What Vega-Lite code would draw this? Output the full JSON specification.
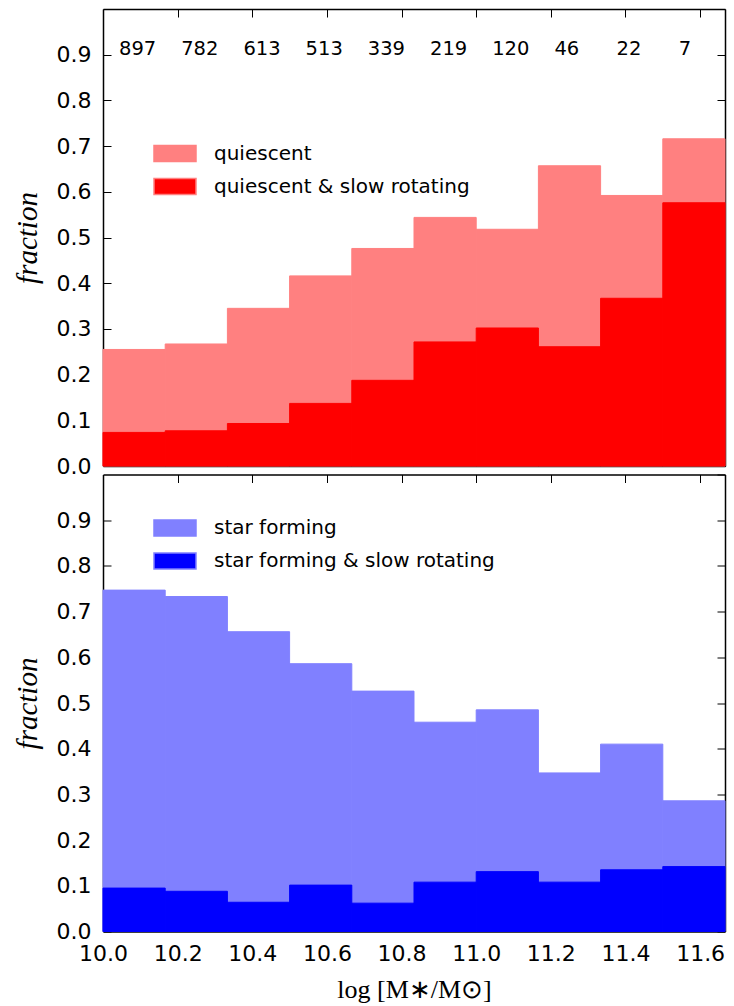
{
  "$schema": "https://vega.github.io/schema/vega-lite/v6.json",
  "background": "white",
  "padding": {"left": 13, "top": 8, "right": 5, "bottom": 2},
  "datasets": {
    "bins": [
      {"lo": 10.0, "hi": 10.16667, "q": 0.255, "qs": 0.0735, "sf": 0.747, "sfs": 0.095, "n": 897},
      {"lo": 10.16667, "hi": 10.33333, "q": 0.267, "qs": 0.077, "sf": 0.733, "sfs": 0.088, "n": 782},
      {"lo": 10.33333, "hi": 10.5, "q": 0.345, "qs": 0.093, "sf": 0.656, "sfs": 0.064, "n": 613},
      {"lo": 10.5, "hi": 10.66667, "q": 0.416, "qs": 0.137, "sf": 0.586, "sfs": 0.1015, "n": 513},
      {"lo": 10.66667, "hi": 10.83333, "q": 0.476, "qs": 0.1875, "sf": 0.526, "sfs": 0.062, "n": 339},
      {"lo": 10.83333, "hi": 11.0, "q": 0.544, "qs": 0.2715, "sf": 0.458, "sfs": 0.108, "n": 219},
      {"lo": 11.0, "hi": 11.16667, "q": 0.518, "qs": 0.302, "sf": 0.485, "sfs": 0.131, "n": 120},
      {"lo": 11.16667, "hi": 11.33333, "q": 0.657, "qs": 0.261, "sf": 0.347, "sfs": 0.108, "n": 46},
      {"lo": 11.33333, "hi": 11.5, "q": 0.592, "qs": 0.367, "sf": 0.41, "sfs": 0.135, "n": 22},
      {"lo": 11.5, "hi": 11.66667, "q": 0.716, "qs": 0.576, "sf": 0.286, "sfs": 0.142, "n": 7}
    ]
  },
  "config": {
    "view": {"stroke": null},
    "axis": {
      "domainColor": "black", "domainWidth": 1.5, "tickColor": "black", "tickSize": -8, "tickWidth": 1,
      "labelFont": "DejaVu Sans", "labelFontSize": 22, "labelColor": "black", "labelPadding": 20, "labelFlush": false,
      "grid": false, "zindex": 1
    },
    "legend": {
      "orient": "none", "legendX": 50, "legendY": 122.5, "padding": 0,
      "symbolType": "M-1,-0.38H1V0.38H-1Z", "symbolSize": 1764, "symbolStrokeWidth": 1.5, "symbolOpacity": 1,
      "labelFont": "DejaVu Sans", "labelFontSize": 20, "labelColor": "black", "labelOffset": 17, "labelLimit": 0,
      "rowPadding": -13, "title": null
    }
  },
  "bounds": "flush",
  "spacing": 8.5,
  "resolve": {"scale": {"color": "independent"}, "legend": {"color": "independent"}},
  "vconcat": [
    {
      "width": 622, "height": 457,
      "data": {"name": "bins"},
      "resolve": {"axis": {"x": "independent", "y": "independent"}},
      "layer": [
        {
          "mark": {"type": "rect", "stroke": "#ff8080", "strokeWidth": 1},
          "encoding": {
            "x": {"field": "lo", "type": "quantitative", "scale": {"domain": [10, 11.66667], "nice": false, "zero": false},
                  "axis": {"orient": "bottom", "values": [10, 10.2, 10.4, 10.6, 10.8, 11, 11.2, 11.4, 11.6], "labels": false, "title": null}},
            "x2": {"field": "hi"},
            "y": {"field": "q", "type": "quantitative", "scale": {"domain": [0, 1], "nice": false},
                  "axis": {"orient": "left", "values": [0, 0.1, 0.2, 0.3, 0.4, 0.5, 0.6, 0.7, 0.8, 0.9], "format": ".1f",
                           "title": "fraction", "titleFont": "Liberation Serif", "titleFontStyle": "italic", "titleFontWeight": "normal",
                           "titleFontSize": 29, "titleColor": "black", "titleX": -67, "titleY": 228.5, "titleBaseline": "alphabetic", "titleAngle": -90, "titleAlign": "center"}},
            "y2": {"datum": 0},
            "color": {"datum": "quiescent", "type": "nominal",
                      "scale": {"domain": ["quiescent", "quiescent & slow rotating"], "range": ["#ff8080", "#ff0000"]},
                      "legend": {"encode": {"symbols": {"update": {"stroke": {"signal": "datum.value === 'quiescent' ? '#a07070' : '#000000'"}, "strokeWidth": {"value": 1.5}}}}}}
          }
        },
        {
          "mark": {"type": "rect", "stroke": "#ff0000", "strokeWidth": 1},
          "encoding": {
            "x": {"field": "lo", "type": "quantitative", "scale": {"domain": [10, 11.66667], "nice": false, "zero": false},
                  "axis": {"orient": "top", "values": [10, 10.2, 10.4, 10.6, 10.8, 11, 11.2, 11.4, 11.6], "labels": false, "title": null}},
            "x2": {"field": "hi"},
            "y": {"field": "qs", "type": "quantitative", "scale": {"domain": [0, 1], "nice": false},
                  "axis": {"orient": "right", "values": [0, 0.1, 0.2, 0.3, 0.4, 0.5, 0.6, 0.7, 0.8, 0.9, 1.0], "labels": false, "title": null}},
            "y2": {"datum": 0},
            "color": {"datum": "quiescent & slow rotating", "type": "nominal"}
          }
        },
        {
          "mark": {"type": "text", "align": "left", "baseline": "alphabetic", "dx": 16, "font": "DejaVu Sans", "fontSize": 19.5, "color": "black"},
          "encoding": {
            "x": {"field": "lo", "type": "quantitative", "axis": null},
            "y": {"datum": 0.9, "type": "quantitative", "axis": null},
            "text": {"field": "n", "type": "quantitative"}
          }
        }
      ]
    },
    {
      "width": 622, "height": 457,
      "data": {"name": "bins"},
      "resolve": {"axis": {"x": "independent", "y": "independent"}},
      "layer": [
        {
          "mark": {"type": "rect", "stroke": "#8080ff", "strokeWidth": 1},
          "encoding": {
            "x": {"field": "lo", "type": "quantitative", "scale": {"domain": [10, 11.66667], "nice": false, "zero": false},
                  "axis": {"orient": "bottom", "values": [10, 10.2, 10.4, 10.6, 10.8, 11, 11.2, 11.4, 11.6], "format": ".1f",
                           "title": "log [M∗/M⊙]", "titleFont": "Liberation Serif", "titleFontWeight": "normal", "titleFontSize": 26,
                           "titleColor": "black", "titleBaseline": "alphabetic", "titleY": 65.5, "titleX": 311}},
            "x2": {"field": "hi"},
            "y": {"field": "sf", "type": "quantitative", "scale": {"domain": [0, 1], "nice": false},
                  "axis": {"orient": "left", "values": [0, 0.1, 0.2, 0.3, 0.4, 0.5, 0.6, 0.7, 0.8, 0.9], "format": ".1f",
                           "title": "fraction", "titleFont": "Liberation Serif", "titleFontStyle": "italic", "titleFontWeight": "normal",
                           "titleFontSize": 29, "titleColor": "black", "titleX": -67, "titleY": 228.5, "titleBaseline": "alphabetic", "titleAngle": -90, "titleAlign": "center"}},
            "y2": {"datum": 0},
            "color": {"datum": "star forming", "type": "nominal",
                      "scale": {"domain": ["star forming", "star forming & slow rotating"], "range": ["#8080ff", "#0000ff"]},
                      "legend": {"legendY": 31.5, "encode": {"symbols": {"update": {"stroke": {"signal": "datum.value === 'star forming' ? '#7070a0' : '#000000'"}, "strokeWidth": {"value": 1.5}}}}}}
          }
        },
        {
          "mark": {"type": "rect", "stroke": "#0000ff", "strokeWidth": 1},
          "encoding": {
            "x": {"field": "lo", "type": "quantitative", "scale": {"domain": [10, 11.66667], "nice": false, "zero": false},
                  "axis": {"orient": "top", "values": [10, 10.2, 10.4, 10.6, 10.8, 11, 11.2, 11.4, 11.6], "labels": false, "title": null}},
            "x2": {"field": "hi"},
            "y": {"field": "sfs", "type": "quantitative", "scale": {"domain": [0, 1], "nice": false},
                  "axis": {"orient": "right", "values": [0, 0.1, 0.2, 0.3, 0.4, 0.5, 0.6, 0.7, 0.8, 0.9, 1.0], "labels": false, "title": null}},
            "y2": {"datum": 0},
            "color": {"datum": "star forming & slow rotating", "type": "nominal"}
          }
        }
      ]
    }
  ]
}
